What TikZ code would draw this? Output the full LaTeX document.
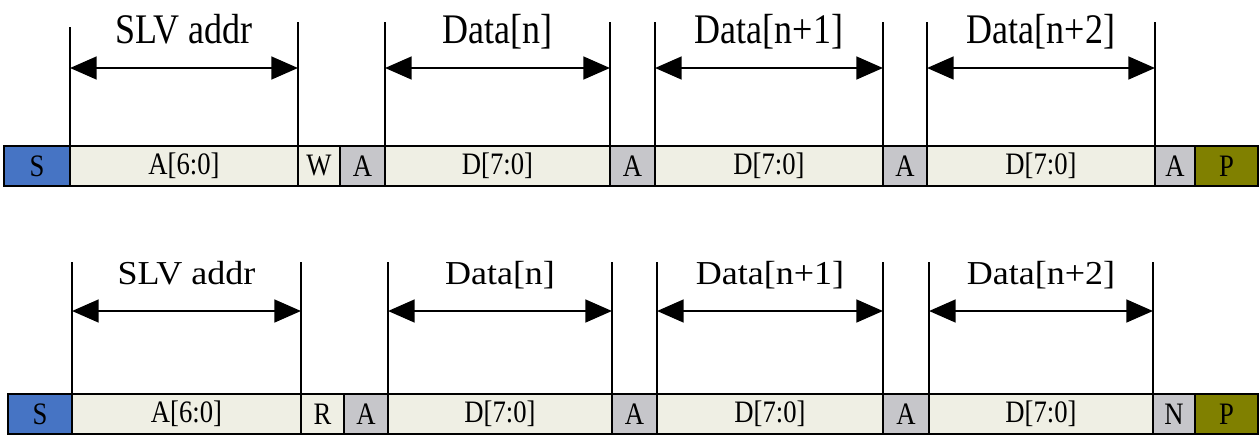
\documentclass[tikz,border=0pt]{standalone}
\usepackage{fontspec}
\setmainfont{Liberation Serif}
\usetikzlibrary{positioning,arrows.meta}

\definecolor{startblue}{RGB}{70,116,196}
\definecolor{fieldbg}{RGB}{239,239,228}
\definecolor{ackgrey}{RGB}{198,198,202}
\definecolor{stopolive}{RGB}{128,128,0}

% the scan is stretched a little in height
\newcommand{\hitext}[1]{\scalebox{1}[1.17]{#1}}
\newcommand{\lotext}[1]{\scalebox{1}[0.93]{#1}}

\tikzset{
  field/.style={draw, line width=1.2pt, outer sep=0pt, inner sep=0pt,
    minimum height=30pt, fill=fieldbg, font=\fontsize{20}{20}\selectfont},
  startf/.style={field, fill=startblue},
  ackf/.style={field, fill=ackgrey},
  stopf/.style={field, fill=stopolive},
  tick/.style={line width=0.9pt},
  span/.style={line width=2pt,
    {Triangle[length=20pt,width=17pt]}-{Triangle[length=20pt,width=17pt]}},
  lab/.style={anchor=base, inner sep=0pt, font=\fontsize{27}{27}\selectfont},
}

\begin{document}
\begin{tikzpicture}[x=0.75pt,y=-0.75pt]
\useasboundingbox (0,0) rectangle (1260,436);

%% write frame
\coordinate (wtop0) at (0,27);
\coordinate (wtop) at (0,22);
\coordinate (warr) at (0,68);
\coordinate (wlab) at (0,43);

\node[startf, minimum width=49.5pt, anchor=north west] (ws) at (4,146) {\hitext{S}};
\node[field, minimum width=171pt, right=0pt of ws] (wa) {\hitext{A[6:0]}};
\node[field, minimum width=31.5pt, right=0pt of wa] (ww) {\hitext{W}};
\node[ackf, minimum width=33.75pt, right=0pt of ww] (wk1) {\hitext{A}};
\node[field, minimum width=168.75pt, right=0pt of wk1] (wd1) {\hitext{D[7:0]}};
\node[ackf, minimum width=33.75pt, right=0pt of wd1] (wk2) {\hitext{A}};
\node[field, minimum width=171pt, right=0pt of wk2] (wd2) {\hitext{D[7:0]}};
\node[ackf, minimum width=33pt, right=0pt of wd2] (wk3) {\hitext{A}};
\node[field, minimum width=171pt, right=0pt of wk3] (wd3) {\hitext{D[7:0]}};
\node[ackf, minimum width=30pt, right=0pt of wd3] (wk4) {\hitext{A}};
\node[stopf, minimum width=47.25pt, right=0pt of wk4] (wp) {\hitext{P}};

% ticks
\draw[tick] (wa.north west) -- (wa.north west |- wtop0);
\draw[tick] (wa.north east) -- (wa.north east |- wtop);
\draw[tick] (wd1.north west) -- (wd1.north west |- wtop);
\draw[tick] (wd1.north east) -- (wd1.north east |- wtop);
\draw[tick] (wd2.north west) -- (wd2.north west |- wtop);
\draw[tick] (wd2.north east) -- (wd2.north east |- wtop);
\draw[tick] (wd3.north west) -- (wd3.north west |- wtop);
\draw[tick] (wd3.north east) -- (wd3.north east |- wtop);

% spans
\draw[span] (wa.north west |- warr) -- (wa.north east |- warr);
\draw[span] (wd1.north west |- warr) -- (wd1.north east |- warr);
\draw[span] (wd2.north west |- warr) -- (wd2.north east |- warr);
\draw[span] (wd3.north west |- warr) -- (wd3.north east |- warr);

\node[lab] (wla) at (wa.north |- wlab) {\hitext{SLV addr}};
\node[lab] (wl1) at (wd1.north |- wlab) {\hitext{Data[n]}};
\node[lab] (wl2) at (wd2.north |- wlab) {\hitext{Data[n+1]}};
\node[lab] (wl3) at (wd3.north |- wlab) {\hitext{Data[n+2]}};

%% read frame
\coordinate (rtop) at (0,262);
\coordinate (rarr) at (0,311);
\coordinate (rlab) at (0,284);

\node[startf, minimum width=48pt, anchor=north west] (rs) at (8,394) {\hitext{S}};
\node[field, minimum width=171.75pt, right=0pt of rs] (ra) {\hitext{A[6:0]}};
\node[field, minimum width=32.25pt, right=0pt of ra] (rr) {\hitext{R}};
\node[ackf, minimum width=33pt, right=0pt of rr] (rk1) {\hitext{A}};
\node[field, minimum width=168pt, right=0pt of rk1] (rd1) {\hitext{D[7:0]}};
\node[ackf, minimum width=33.75pt, right=0pt of rd1] (rk2) {\hitext{A}};
\node[field, minimum width=169.5pt, right=0pt of rk2] (rd2) {\hitext{D[7:0]}};
\node[ackf, minimum width=34.5pt, right=0pt of rd2] (rk3) {\hitext{A}};
\node[field, minimum width=168pt, right=0pt of rk3] (rd3) {\hitext{D[7:0]}};
\node[ackf, minimum width=31.5pt, right=0pt of rd3] (rn) {\hitext{N}};
\node[stopf, minimum width=47.25pt, right=0pt of rn] (rp) {\hitext{P}};

% ticks
\draw[tick] (ra.north west) -- (ra.north west |- rtop);
\draw[tick] (ra.north east) -- (ra.north east |- rtop);
\draw[tick] (rd1.north west) -- (rd1.north west |- rtop);
\draw[tick] (rd1.north east) -- (rd1.north east |- rtop);
\draw[tick] (rd2.north west) -- (rd2.north west |- rtop);
\draw[tick] (rd2.north east) -- (rd2.north east |- rtop);
\draw[tick] (rd3.north west) -- (rd3.north west |- rtop);
\draw[tick] (rd3.north east) -- (rd3.north east |- rtop);

% spans
\draw[span] (ra.north west |- rarr) -- (ra.north east |- rarr);
\draw[span] (rd1.north west |- rarr) -- (rd1.north east |- rarr);
\draw[span] (rd2.north west |- rarr) -- (rd2.north east |- rarr);
\draw[span] (rd3.north west |- rarr) -- (rd3.north east |- rarr);

\node[lab] (rla) at (ra.north |- rlab) {\lotext{SLV addr}};
\node[lab] (rl1) at (rd1.north |- rlab) {\lotext{Data[n]}};
\node[lab] (rl2) at (rd2.north |- rlab) {\lotext{Data[n+1]}};
\node[lab] (rl3) at (rd3.north |- rlab) {\lotext{Data[n+2]}};
\end{tikzpicture}
\end{document}
